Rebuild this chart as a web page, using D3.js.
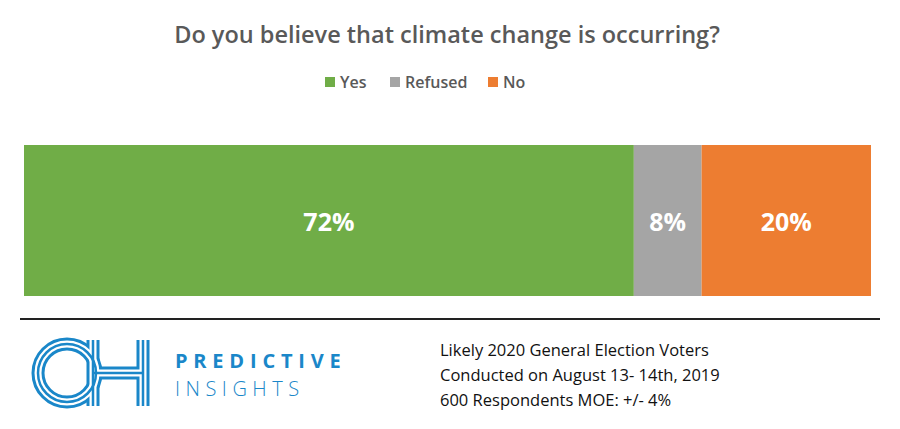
<!DOCTYPE html>
<html>
<head>
<meta charset="utf-8">
<script src="https://d3js.org/d3.v7.min.js"></script>
<style>body{margin:0;background:#fff;font-family:"Open Sans",sans-serif;}</style>
</head>
<body>
<div id="chart"></div>
<script>
var categories = ['Yes', 'Refused', 'No'];
var values = [72, 8, 20];
var colors = ['#70ad47', '#a5a5a5', '#ed7d31'];
var footLines = ['Likely 2020 General Election Voters', 'Conducted on August 13- 14th, 2019', '600 Respondents MOE: +/- 4%'];

var w = 900, h = 429;
var svg = d3.select('#chart').append('svg').attr('width', w).attr('height', h);

svg.append('text').attr('x', 447).attr('y', 43).attr('text-anchor', 'middle')
  .attr('font-size', 23.5).attr('font-weight', 600).attr('fill', '#595959')
  .text('Do you believe that climate change is occurring?');

// legend
var legX = [325, 390, 488];
categories.forEach(function(c, i) {
  svg.append('rect').attr('x', legX[i]).attr('y', 77).attr('width', 10).attr('height', 10).attr('fill', colors[i]);
  svg.append('text').attr('x', legX[i] + 15).attr('y', 88).attr('font-size', 16).attr('font-weight', 600)
    .attr('fill', '#595959').text(c);
});

var x = d3.scaleLinear().domain([0, d3.sum(values)]).range([24, 871]);
var cum = 0;
var segs = values.map(function(v, i) { var s = {v: v, c: colors[i], x0: cum}; cum += v; return s; });
svg.selectAll('rect.bar').data(segs).enter().append('rect').attr('class', 'bar')
  .attr('x', function(d) { return x(d.x0); }).attr('y', 145)
  .attr('width', function(d) { return x(d.x0 + d.v) - x(d.x0); }).attr('height', 151)
  .attr('fill', function(d) { return d.c; });
svg.selectAll('text.lab').data(segs).enter().append('text').attr('class', 'lab')
  .attr('x', function(d) { return (x(d.x0) + x(d.x0 + d.v)) / 2; }).attr('y', 231)
  .attr('text-anchor', 'middle').attr('font-size', 25).attr('font-weight', 700).attr('fill', '#fff')
  .text(function(d) { return d.v + '%'; });

svg.append('line').attr('x1', 20).attr('x2', 880).attr('y1', 319).attr('y2', 319)
  .attr('stroke', '#222').attr('stroke-width', 2);

// logo
var blue = '#1a87c9';
var g = svg.append('g');
var hPath = 'M93,340 V406 M143,340 V406 M93,373 H143';
[[13, blue], [7, '#fff'], [2.5, blue]].forEach(function(s) {
  g.append('circle').attr('cx', 67).attr('cy', 373).attr('r', 29).attr('fill', 'none')
    .attr('stroke', s[1]).attr('stroke-width', s[0]);
  g.append('path').attr('d', hPath).attr('fill', 'none').attr('stroke', s[1]).attr('stroke-width', s[0]);
});
svg.append('text').attr('x', 175).attr('y', 368).attr('font-size', 20).attr('font-weight', 700)
  .attr('letter-spacing', 5.8).attr('fill', blue).text('PREDICTIVE');
svg.append('text').attr('x', 175).attr('y', 396).attr('font-size', 20).attr('font-weight', 300)
  .attr('letter-spacing', 5.5).attr('fill', blue).text('INSIGHTS');

svg.selectAll('text.foot').data(footLines).enter().append('text').attr('class', 'foot')
  .attr('x', 440).attr('y', function(d, i) { return 356 + i * 25; })
  .attr('font-size', 16.5).attr('fill', '#111').text(function(d) { return d; });
</script>
</body>
</html>
